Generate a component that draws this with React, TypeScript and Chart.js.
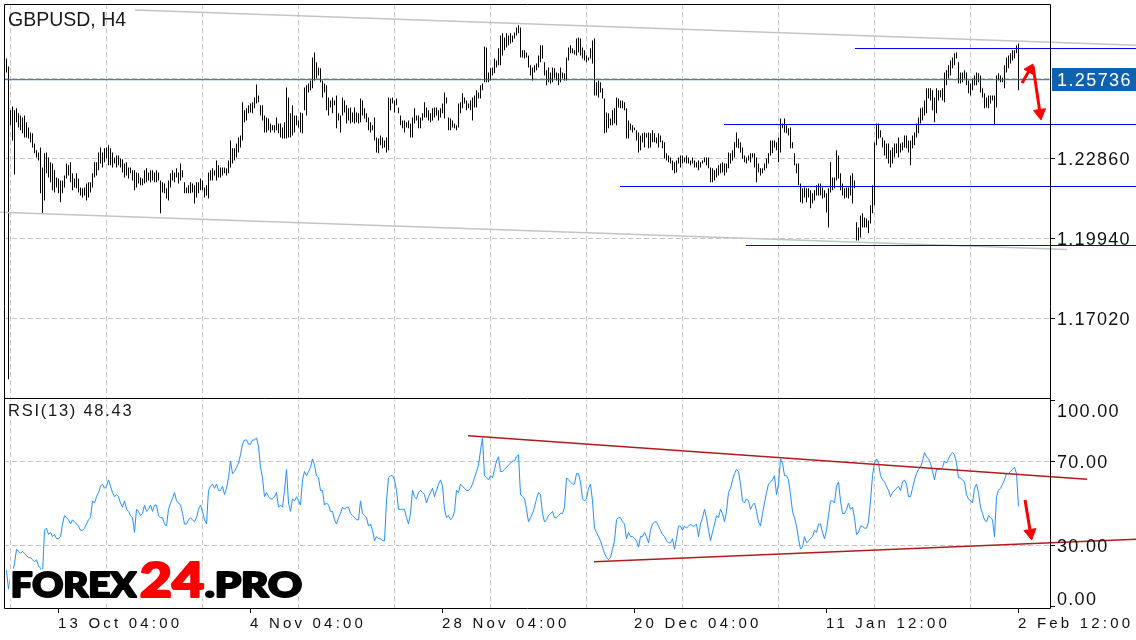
import React, { useEffect, useRef } from "react";
import { Chart, registerables } from "chart.js";

Chart.register(...registerables);

// ---------- DATA (H4 bars: high / low, RSI(13)) ----------
const highs: number[] = [
  1.2651,1.2622,1.2462,1.2476,1.2462,1.2469,1.2451,1.2443,1.2436,1.2443,
  1.2418,1.2399,1.2381,1.2378,1.2341,1.2316,1.2308,1.2326,1.2253,1.2305,
  1.2308,1.2290,1.2272,1.2268,1.2243,1.2217,1.2213,1.2206,1.2206,1.2224,
  1.2268,1.2261,1.2272,1.2232,1.2213,1.2232,1.2213,1.2180,1.2177,1.2180,
  1.2195,1.2199,1.2199,1.2232,1.2272,1.2272,1.2308,1.2326,1.2308,1.2323,
  1.2326,1.2334,1.2323,1.2308,1.2290,1.2297,1.2297,1.2286,1.2283,1.2268,
  1.2272,1.2253,1.2253,1.2243,1.2243,1.2235,1.2232,1.2217,1.2213,1.2243,
  1.2250,1.2235,1.2243,1.2243,1.2235,1.2243,1.2235,1.2206,1.2199,1.2195,
  1.2177,1.2206,1.2232,1.2243,1.2235,1.2250,1.2235,1.2268,1.2243,1.2199,
  1.2180,1.2188,1.2199,1.2195,1.2188,1.2199,1.2199,1.2213,1.2206,1.2180,
  1.2188,1.2235,1.2243,1.2250,1.2243,1.2279,1.2261,1.2253,1.2253,1.2253,
  1.2250,1.2279,1.2352,1.2323,1.2323,1.2341,1.2363,1.2370,1.2491,1.2462,
  1.2469,1.2480,1.2487,1.2491,1.2509,1.2556,1.2516,1.2480,1.2480,1.2443,
  1.2436,1.2432,1.2414,1.2407,1.2407,1.2436,1.2414,1.2414,1.2399,1.2418,
  1.2545,1.2509,1.2451,1.2480,1.2443,1.2443,1.2425,1.2454,1.2451,1.2545,
  1.2553,1.2560,1.2571,1.2655,1.2673,1.2637,1.2618,1.2615,1.2571,1.2560,
  1.2553,1.2509,1.2498,1.2509,1.2498,1.2516,1.2451,1.2443,1.2509,1.2498,
  1.2480,1.2469,1.2472,1.2454,1.2472,1.2454,1.2451,1.2505,1.2498,1.2469,
  1.2451,1.2436,1.2418,1.2407,1.2436,1.2363,1.2359,1.2370,1.2363,1.2352,
  1.2363,1.2509,1.2505,1.2509,1.2498,1.2505,1.2472,1.2443,1.2425,1.2425,
  1.2418,1.2425,1.2414,1.2436,1.2469,1.2443,1.2443,1.2436,1.2451,1.2491,
  1.2472,1.2462,1.2451,1.2469,1.2472,1.2472,1.2462,1.2469,1.2487,1.2527,
  1.2509,1.2436,1.2432,1.2425,1.2414,1.2407,1.2487,1.2491,1.2524,1.2509,
  1.2498,1.2487,1.2498,1.2509,1.2516,1.2535,1.2527,1.2553,1.2560,1.2695,
  1.2691,1.2600,1.2615,1.2618,1.2651,1.2644,1.2688,1.2735,1.2743,1.2728,
  1.2743,1.2735,1.2743,1.2735,1.2746,1.2764,1.2772,1.2764,1.2681,1.2681,
  1.2673,1.2662,1.2626,1.2618,1.2626,1.2633,1.2662,1.2699,1.2699,1.2637,
  1.2608,1.2618,1.2600,1.2618,1.2615,1.2600,1.2597,1.2618,1.2600,1.2597,
  1.2655,1.2691,1.2699,1.2688,1.2681,1.2724,1.2728,1.2724,1.2691,1.2681,
  1.2662,1.2655,1.2688,1.2717,1.2724,1.2564,1.2571,1.2564,1.2542,1.2505,
  1.2454,1.2451,1.2432,1.2462,1.2469,1.2509,1.2505,1.2498,1.2498,1.2491,
  1.2469,1.2425,1.2414,1.2407,1.2399,1.2389,1.2381,1.2370,1.2378,1.2381,
  1.2378,1.2381,1.2378,1.2389,1.2378,1.2363,1.2378,1.2370,1.2352,1.2345,
  1.2305,1.2297,1.2290,1.2279,1.2272,1.2279,1.2290,1.2297,1.2297,1.2290,
  1.2297,1.2290,1.2279,1.2290,1.2279,1.2272,1.2279,1.2272,1.2279,1.2290,
  1.2290,1.2290,1.2253,1.2250,1.2243,1.2250,1.2261,1.2268,1.2272,1.2268,
  1.2268,1.2308,1.2305,1.2316,1.2345,1.2381,1.2359,1.2345,1.2326,1.2297,
  1.2290,1.2297,1.2305,1.2305,1.2305,1.2290,1.2268,1.2250,1.2250,1.2268,
  1.2286,1.2305,1.2352,1.2352,1.2352,1.2345,1.2363,1.2432,1.2414,1.2432,
  1.2407,1.2396,1.2399,1.2345,1.2305,1.2268,1.2268,1.2195,1.2177,1.2180,
  1.2177,1.2177,1.2170,1.2159,1.2170,1.2188,1.2195,1.2195,1.2180,1.2170,
  1.2159,1.2177,1.2272,1.2217,1.2217,1.2316,1.2297,1.2232,1.2195,1.2177,
  1.2180,1.2180,1.2224,1.2232,1.2206,1.2053,1.2034,1.2078,1.2086,1.2071,
  1.2067,1.2060,1.2115,1.2188,1.2345,1.2414,1.2414,1.2389,1.2363,1.2352,
  1.2341,1.2341,1.2316,1.2326,1.2341,1.2341,1.2363,1.2341,1.2345,1.2370,
  1.2370,1.2352,1.2352,1.2370,1.2381,1.2414,1.2436,1.2469,1.2472,1.2498,
  1.2542,1.2542,1.2542,1.2535,1.2509,1.2542,1.2535,1.2535,1.2542,1.2600,
  1.2608,1.2626,1.2644,1.2655,1.2670,1.2673,1.2637,1.2600,1.2600,1.2608,
  1.2600,1.2571,1.2560,1.2578,1.2589,1.2600,1.2597,1.2589,1.2542,1.2524,
  1.2509,1.2516,1.2516,1.2516,1.2516,1.2589,1.2597,1.2589,1.2582,1.2626,
  1.2655,1.2662,1.2670,1.2681,1.2681,1.2699,1.2706,
];

const lows: number[] = [
  1.2600,1.1480,1.2407,1.2352,1.2228,1.2418,1.2399,1.2389,1.2378,1.2363,
  1.2363,1.2359,1.2345,1.2326,1.2305,1.2290,1.2279,1.2159,1.2086,1.2133,
  1.2232,1.2217,1.2199,1.2170,1.2162,1.2180,1.2159,1.2126,1.2159,1.2180,
  1.2213,1.2224,1.2199,1.2170,1.2180,1.2177,1.2162,1.2151,1.2144,1.2151,
  1.2133,1.2144,1.2162,1.2180,1.2217,1.2224,1.2243,1.2268,1.2253,1.2272,
  1.2286,1.2261,1.2261,1.2253,1.2268,1.2253,1.2261,1.2253,1.2235,1.2217,
  1.2224,1.2213,1.2232,1.2206,1.2170,1.2180,1.2195,1.2188,1.2188,1.2195,
  1.2199,1.2206,1.2199,1.2206,1.2199,1.2199,1.2206,1.2086,1.2162,1.2159,
  1.2140,1.2133,1.2180,1.2206,1.2199,1.2217,1.2195,1.2206,1.2217,1.2159,
  1.2159,1.2159,1.2159,1.2162,1.2122,1.2144,1.2159,1.2170,1.2170,1.2144,
  1.2151,1.2140,1.2206,1.2206,1.2224,1.2206,1.2217,1.2217,1.2224,1.2232,
  1.2224,1.2232,1.2253,1.2268,1.2279,1.2290,1.2308,1.2326,1.2352,1.2418,
  1.2425,1.2451,1.2454,1.2451,1.2469,1.2487,1.2491,1.2443,1.2425,1.2381,
  1.2381,1.2389,1.2381,1.2389,1.2381,1.2389,1.2378,1.2363,1.2359,1.2359,
  1.2359,1.2363,1.2363,1.2370,1.2381,1.2407,1.2399,1.2381,1.2378,1.2462,
  1.2443,1.2527,1.2535,1.2542,1.2571,1.2578,1.2589,1.2564,1.2509,1.2527,
  1.2462,1.2443,1.2472,1.2451,1.2480,1.2396,1.2425,1.2381,1.2443,1.2454,
  1.2414,1.2425,1.2414,1.2418,1.2414,1.2418,1.2414,1.2418,1.2443,1.2432,
  1.2418,1.2389,1.2381,1.2389,1.2352,1.2308,1.2305,1.2334,1.2323,1.2326,
  1.2308,1.2316,1.2462,1.2487,1.2454,1.2480,1.2451,1.2407,1.2396,1.2381,
  1.2399,1.2396,1.2363,1.2363,1.2414,1.2425,1.2396,1.2396,1.2425,1.2436,
  1.2436,1.2425,1.2418,1.2425,1.2436,1.2443,1.2425,1.2436,1.2451,1.2432,
  1.2487,1.2389,1.2389,1.2399,1.2396,1.2389,1.2399,1.2451,1.2469,1.2487,
  1.2462,1.2469,1.2462,1.2425,1.2472,1.2472,1.2505,1.2505,1.2535,1.2564,
  1.2564,1.2564,1.2571,1.2589,1.2597,1.2618,1.2626,1.2626,1.2662,1.2681,
  1.2691,1.2699,1.2706,1.2710,1.2724,1.2735,1.2743,1.2655,1.2655,1.2651,
  1.2655,1.2618,1.2589,1.2571,1.2600,1.2608,1.2618,1.2637,1.2651,1.2589,
  1.2553,1.2564,1.2560,1.2564,1.2578,1.2571,1.2553,1.2564,1.2578,1.2571,
  1.2571,1.2644,1.2670,1.2670,1.2666,1.2662,1.2673,1.2662,1.2651,1.2644,
  1.2637,1.2644,1.2651,1.2633,1.2516,1.2516,1.2509,1.2527,1.2505,1.2378,
  1.2381,1.2396,1.2407,1.2407,1.2414,1.2407,1.2472,1.2469,1.2469,1.2462,
  1.2359,1.2359,1.2389,1.2381,1.2389,1.2352,1.2308,1.2316,1.2345,1.2326,
  1.2363,1.2323,1.2326,1.2345,1.2345,1.2341,1.2326,1.2345,1.2323,1.2286,
  1.2279,1.2272,1.2268,1.2243,1.2232,1.2235,1.2268,1.2253,1.2268,1.2272,
  1.2268,1.2268,1.2261,1.2268,1.2253,1.2253,1.2243,1.2253,1.2268,1.2272,
  1.2261,1.2250,1.2199,1.2199,1.2206,1.2217,1.2224,1.2232,1.2235,1.2224,
  1.2235,1.2250,1.2268,1.2279,1.2290,1.2326,1.2323,1.2308,1.2286,1.2272,
  1.2268,1.2279,1.2272,1.2290,1.2253,1.2199,1.2235,1.2224,1.2232,1.2243,
  1.2250,1.2268,1.2297,1.2305,1.2326,1.2316,1.2272,1.2308,1.2396,1.2381,
  1.2378,1.2370,1.2323,1.2323,1.2261,1.2232,1.2188,1.2126,1.2122,1.2144,
  1.2126,1.2144,1.2104,1.2122,1.2133,1.2151,1.2151,1.2151,1.2140,1.2144,
  1.2089,1.2034,1.2162,1.2170,1.2177,1.2206,1.2213,1.2170,1.2151,1.2140,
  1.2144,1.2140,1.2151,1.2122,1.2177,1.1987,1.1987,1.1998,1.2034,1.2034,
  1.2034,1.2013,1.2049,1.2086,1.2115,1.2334,1.2359,1.2363,1.2326,1.2297,
  1.2286,1.2268,1.2253,1.2268,1.2290,1.2305,1.2290,1.2308,1.2316,1.2326,
  1.2323,1.2308,1.2261,1.2323,1.2334,1.2363,1.2378,1.2414,1.2425,1.2443,
  1.2451,1.2505,1.2498,1.2462,1.2418,1.2451,1.2498,1.2509,1.2498,1.2491,
  1.2553,1.2578,1.2589,1.2615,1.2626,1.2651,1.2560,1.2560,1.2564,1.2578,
  1.2553,1.2524,1.2516,1.2535,1.2553,1.2553,1.2564,1.2527,1.2509,1.2469,
  1.2472,1.2469,1.2487,1.2498,1.2407,1.2472,1.2571,1.2564,1.2564,1.2542,
  1.2600,1.2615,1.2633,1.2644,1.2651,1.2670,1.2535,
];

const rsi: number[] = [
  18,9,15,17,21,28,27,26,27,26,
  25,24,24,23,22,23,20,19,16,37,
  38,35,36,34,35,33,33,34,40,44,
  43,42,40,42,41,40,39,37,37,38,
  40,42,43,51,50,53,55,58,59,57,
  58,61,58,55,53,54,53,50,48,51,
  47,46,44,43,36,47,46,44,45,49,
  46,47,49,46,49,49,44,43,43,40,
  39,47,50,52,55,51,50,49,45,40,
  40,42,43,42,41,43,47,49,46,42,
  40,56,58,59,57,59,56,56,58,54,
  57,62,70,64,65,67,69,73,78,80,
  80,78,78,80,80,81,77,67,62,53,
  55,53,52,52,53,55,48,49,48,56,
  66,50,46,52,51,53,51,49,61,65,
  63,65,67,71,68,63,62,56,56,49,
  50,49,46,46,42,40,43,45,48,47,
  48,48,45,44,43,42,42,51,45,44,
  43,39,40,37,32,34,33,33,32,32,
  51,62,63,63,61,56,47,47,47,47,
  43,40,45,56,53,52,55,56,55,54,
  50,53,55,57,53,56,59,61,58,47,
  43,44,42,43,46,56,55,59,58,57,
  56,56,57,59,62,65,68,75,81,63,
  62,61,63,62,66,70,72,65,65,66,
  67,68,69,70,70,72,73,54,53,52,
  47,41,43,45,48,52,55,54,45,41,
  42,44,45,46,43,43,44,45,45,48,
  62,61,60,59,59,64,64,60,52,51,
  52,57,59,51,38,36,34,32,29,26,
  24,23,24,28,32,42,43,43,41,40,
  33,36,34,34,33,32,29,34,34,36,
  34,31,37,40,41,41,39,37,35,34,
  32,31,31,33,28,33,39,39,37,39,
  38,39,40,39,39,40,34,40,43,47,
  43,37,32,36,40,44,43,47,45,41,
  46,55,57,61,64,66,65,59,51,50,
  52,51,47,49,50,46,41,39,45,50,
  55,59,60,61,63,54,59,71,69,63,
  63,61,54,46,43,39,33,28,29,34,
  31,32,33,34,37,36,40,40,36,33,
  37,44,51,51,50,58,60,51,45,45,
  47,50,47,48,43,35,36,39,39,38,
  38,41,51,63,69,71,69,63,61,60,
  58,56,53,55,56,57,58,56,60,61,
  59,53,53,57,61,64,66,67,70,74,
  72,71,69,65,61,66,66,66,67,70,
  69,71,73,74,73,69,62,62,61,60,
  54,52,51,50,57,59,55,48,45,42,
  41,44,43,42,34,53,56,57,59,61,
  64,64,65,66,67,64,48.43,
];

const symbolTitle = "GBPUSD, H4";
const rsiTitle = "RSI(13) 48.43";
const timeLabels = ["13 Oct 04:00", "4 Nov 04:00", "28 Nov 04:00", "20 Dec 04:00", "11 Jan 12:00", "2 Feb 12:00"];
const labelBars = [26, 122, 218, 314, 410, 506];
const gridBars = [26, 74, 122, 170, 218, 266, 314, 362, 410, 458, 506];
const priceGrid = [1.1702, 1.1994, 1.2286, 1.2578];
const priceLabels = ["1.17020", "1.19940", "1.22860"];
const rsiGrid = [30, 70];
const rsiLabels = [100, 70, 30, 0];
const lastPrice = 1.25736;

// drawn objects (bar index, value)
const channelUpper = [{ x: 64.25, y: 1.2828 }, { x: 564.75, y: 1.2699 }];
const channelLower = [{ x: -3.25, y: 1.209 }, { x: 530.25, y: 1.1954 }];
const levelStarts = [424.25, 358.75, 306.75, 369.75];
const levelPrices = [1.26875, 1.24101, 1.21838, 1.19685];
const levelEnd = 564.75;
const rsiUpper = [{ x: 230.75, y: 82.05 }, { x: 540.25, y: 61.29 }];
const rsiLower = [{ x: 293.75, y: 22.05 }, { x: 564.75, y: 32.71 }];
const arrowUp = [{ x: 507.75, y: 1.2562 }, { x: 511.75, y: 1.2612 }];
const arrowDown = [{ x: 513.25, y: 1.2624 }, { x: 516.75, y: 1.2452 }];
const arrowRsi = [{ x: 509.25, y: 51.4 }, { x: 512, y: 35.7 }];

// axis ranges
const X_MIN = -1.25, X_MAX = 521.75;
const P_MIN = 1.1411825, P_MAX = 1.2849925;

const FONT = '"Liberation Sans", Arial, Helvetica, sans-serif';
const GRID = "#c6c6c6";
const DASH = [5, 3];

function headRotation(c: any) {
  const ch = c.chart;
  const ds = c.dataset;
  const xs = ch.scales.x;
  const ys = ch.scales[ds.yAxisID];
  if (!xs || !ys) return 0;
  const a = ds.data[0], b = ds.data[1];
  const dx = xs.getPixelForValue(b.x) - xs.getPixelForValue(a.x);
  const dy = ys.getPixelForValue(b.y) - ys.getPixelForValue(a.y);
  return (Math.atan2(dx, -dy) * 180) / Math.PI;
}

function lineDs(data: any[], axis: string, color: string, width: number, order: number) {
  return {
    type: "line",
    data,
    yAxisID: axis,
    xAxisID: "x",
    borderColor: color,
    borderWidth: width,
    pointRadius: 0,
    tension: 0,
    clip: false,
    order,
    borderCapStyle: "butt",
  };
}

function arrowDs(data: any[], axis: string, r: number) {
  return {
    type: "line",
    data,
    yAxisID: axis,
    xAxisID: "x",
    borderColor: "#ff0000",
    borderWidth: 3,
    pointRadius: [0, r],
    pointStyle: "triangle",
    pointRotation: headRotation,
    pointBackgroundColor: "#ff0000",
    pointBorderColor: "#ff0000",
    pointBorderWidth: 1,
    tension: 0,
    clip: false,
    order: 0,
  };
}

function drawFit(ctx: any, s: string, left: number, baseline: number, capH: number, width: number, color: string) {
  const fam = '"Lato", "Inter", "DejaVu Sans", sans-serif';
  ctx.letterSpacing = "0px";
  ctx.font = `900 100px ${fam}`;
  const capRef = ctx.measureText("H").actualBoundingBoxAscent || 72;
  const size = (100 * (capH - 2)) / capRef;
  ctx.font = `900 ${size}px ${fam}`;
  const m = ctx.measureText(s);
  const vis = m.actualBoundingBoxLeft + m.actualBoundingBoxRight;
  const sx = (width - 2) / vis;
  ctx.save();
  ctx.translate(left + 1, baseline - 1);
  ctx.scale(sx, 1);
  ctx.lineJoin = "round";
  ctx.strokeStyle = "#ffffff";
  ctx.lineWidth = 7;
  ctx.strokeText(s, m.actualBoundingBoxLeft, 0);
  ctx.strokeStyle = color;
  ctx.lineWidth = 2.2;
  ctx.strokeText(s, m.actualBoundingBoxLeft, 0);
  ctx.fillStyle = color;
  ctx.fillText(s, m.actualBoundingBoxLeft, 0);
  ctx.restore();
}

const decor = {
  id: "decor",
  afterDraw(chart: any) {
    const { ctx, chartArea: a } = chart;
    const xs = chart.scales.x, ys = chart.scales.y, rs = chart.scales.rsi;
    ctx.save();
    ctx.setLineDash([]);
    ctx.strokeStyle = "#000";
    ctx.lineWidth = 1;
    ctx.beginPath();
    ctx.rect(a.left + 0.5, a.top + 0.5, a.right - a.left, a.bottom - a.top);
    ctx.moveTo(a.left, rs.top + 0.5);
    ctx.lineTo(a.right + 1, rs.top + 0.5);
    priceGrid.slice(0, 3).forEach((v) => {
      const py = Math.floor(ys.getPixelForValue(v)) + 0.5;
      ctx.moveTo(a.right, py);
      ctx.lineTo(a.right + 5, py);
    });
    rsiLabels.forEach((v) => {
      let py = rs.getPixelForValue(v);
      py = Math.min(Math.max(py, rs.top + 2), rs.bottom - 2);
      py = Math.floor(py) + 0.5;
      ctx.moveTo(a.right, py);
      ctx.lineTo(a.right + 5, py);
    });
    labelBars.forEach((b) => {
      const px = Math.floor(xs.getPixelForValue(b)) + 0.5;
      ctx.moveTo(px, a.bottom);
      ctx.lineTo(px, a.bottom + 5);
    });
    ctx.stroke();

    ctx.textAlign = "left";
    ctx.textBaseline = "alphabetic";
    // right price labels
    ctx.fillStyle = "#111";
    ctx.font = `18px ${FONT}`;
    ctx.letterSpacing = "1.25px";
    priceGrid.slice(0, 3).forEach((v, k) => {
      ctx.fillText(priceLabels[k], a.right + 7, ys.getPixelForValue(v) + 6.5);
    });
    ctx.letterSpacing = "1.3px";
    rsiLabels.forEach((v) => {
      let cy = rs.getPixelForValue(v);
      cy = Math.min(Math.max(cy, rs.top + 12.5), rs.bottom - 10);
      ctx.fillText(v.toFixed(2), a.right + 7, cy + 6.5);
    });
    // time labels
    ctx.font = `15px ${FONT}`;
    ctx.letterSpacing = "3.2px";
    labelBars.forEach((b, k) => {
      ctx.fillText(timeLabels[k], Math.floor(xs.getPixelForValue(b)), a.bottom + 19.5);
    });
    // titles
    ctx.letterSpacing = "0px";
    ctx.font = `19.5px ${FONT}`;
    ctx.fillStyle = "#1a1a1a";
    ctx.fillText(symbolTitle, a.left + 4, a.top + 22);
    ctx.font = `16.5px ${FONT}`;
    ctx.letterSpacing = "1.75px";
    ctx.fillText(rsiTitle, a.left + 4, rs.top + 18);

    // current price box
    const py = ys.getPixelForValue(lastPrice);
    ctx.fillStyle = "#0f62b0";
    ctx.fillRect(a.right + 2, Math.round(py) - 12, chart.width - a.right - 2, 23);
    ctx.fillStyle = "#ffffff";
    ctx.font = `18px ${FONT}`;
    ctx.letterSpacing = "1.4px";
    ctx.fillText(lastPrice.toFixed(5), a.right + 7, py + 6.5);

    // watermark
    drawFit(ctx, "FOREX", 12, 598, 27, 126, "#000000");
    drawFit(ctx, "24", 140, 598, 36, 64, "#ff0000");
    drawFit(ctx, ".PRO", 205, 598, 27, 97, "#000000");
    ctx.restore();
  },
};

export default function App() {
  const ref = useRef<HTMLCanvasElement>(null);
  useEffect(() => {
    const canvas = ref.current;
    if (!canvas) return;
    const bars = highs.map((h, i) => ({ x: i, y: [lows[i], h] }));
    const rsiPts = rsi.map((v, i) => ({ x: i, y: v }));
    const datasets: any[] = [
      arrowDs(arrowUp, "y", 6),
      arrowDs(arrowDown, "y", 7),
      arrowDs(arrowRsi, "rsi", 7),
      lineDs(rsiUpper, "rsi", "#b01c1c", 1.5, 1),
      lineDs(rsiLower, "rsi", "#b01c1c", 1.5, 1),
      ...levelStarts.map((s, k) =>
        lineDs([{ x: s, y: levelPrices[k] }, { x: levelEnd, y: levelPrices[k] }], "y", "#0000ff", 1, 1)
      ),
      lineDs(channelUpper, "y", "#c4c4c4", 1.5, 2),
      lineDs(channelLower, "y", "#c4c4c4", 1.5, 2),
      lineDs([{ x: X_MIN, y: lastPrice }, { x: X_MAX, y: lastPrice }], "y", "#1f5f9f", 1, 2),
      {
        type: "bar",
        data: bars,
        yAxisID: "y",
        xAxisID: "x",
        backgroundColor: "#000000",
        borderWidth: 0,
        barThickness: 1,
        inflateAmount: 0,
        order: 3,
      },
      {
        type: "line",
        data: rsiPts,
        yAxisID: "rsi",
        xAxisID: "x",
        borderColor: "#1e90ff",
        borderWidth: 1,
        pointRadius: 0,
        tension: 0,
        order: 4,
      },
    ];
    const chart = new Chart(canvas, {
      type: "bar",
      data: { datasets },
      options: {
        responsive: false,
        animation: false,
        devicePixelRatio: 1,
        events: [],
        layout: { autoPadding: false, padding: { left: 4, top: 4, right: 0, bottom: 0 } },
        plugins: { legend: { display: false }, tooltip: { enabled: false }, title: { display: false } },
        scales: {
          x: {
            type: "linear",
            position: "bottom",
            min: X_MIN,
            max: X_MAX,
            offset: false,
            afterBuildTicks: (s: any) => {
              s.ticks = gridBars.map((v) => ({ value: v }));
            },
            afterFit: (s: any) => {
              s.height = 32;
            },
            ticks: { display: false },
            grid: { color: GRID, lineWidth: 1, drawTicks: false },
            border: { display: false, dash: DASH },
          },
          y: {
            type: "linear",
            position: "right",
            stack: "panes",
            stackWeight: 394,
            min: P_MIN,
            max: P_MAX,
            afterBuildTicks: (s: any) => {
              s.ticks = priceGrid.map((v) => ({ value: v }));
            },
            afterFit: (s: any) => {
              s.width = 86;
            },
            ticks: { display: false },
            grid: { color: GRID, lineWidth: 1, drawTicks: false },
            border: { display: false, dash: DASH },
          },
          rsi: {
            type: "linear",
            position: "right",
            stack: "panes",
            stackWeight: 210,
            min: 0,
            max: 100,
            afterBuildTicks: (s: any) => {
              s.ticks = rsiGrid.map((v) => ({ value: v }));
            },
            afterFit: (s: any) => {
              s.width = 86;
            },
            ticks: { display: false },
            grid: { color: GRID, lineWidth: 1, drawTicks: false },
            border: { display: false, dash: DASH },
          },
        },
      } as any,
      plugins: [decor as any],
    } as any);
    return () => chart.destroy();
  }, []);

  return (
    <div style={{ position: "fixed", left: 0, top: 0, width: 1136, height: 640, background: "#ffffff" }}>
      <canvas ref={ref} width={1136} height={640} style={{ display: "block", width: 1136, height: 640 }} />
    </div>
  );
}
